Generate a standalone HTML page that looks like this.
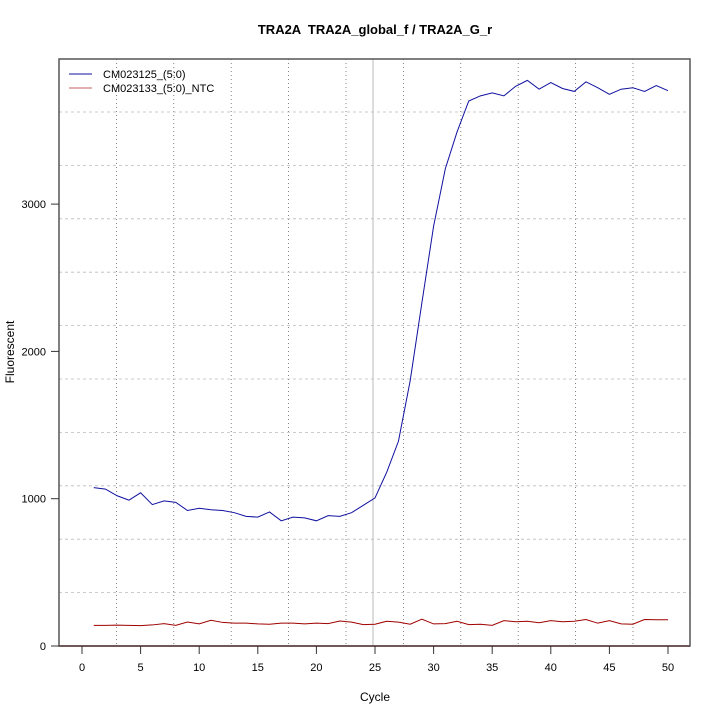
<!DOCTYPE html>
<html><head><meta charset="utf-8"><style>
body{margin:0;background:#fff;}
svg{display:block;font-family:"Liberation Sans",sans-serif;}
</style></head><body>
<svg id="s" width="720" height="720" xmlns="http://www.w3.org/2000/svg">
<rect width="720" height="720" fill="#fff"/>
<g id="grid"></g>
<line x1="373" y1="59" x2="373" y2="646" stroke="#bbb" stroke-width="1"/>
<line x1="59" y1="646" x2="690" y2="646" stroke="#c06060" stroke-width="2"/>
<polyline id="red" fill="none" stroke="#a00000" stroke-width="1"/>
<polyline id="blue" fill="none" stroke="#1010a0" stroke-width="1"/>
<rect x="59" y="59" width="631" height="587" fill="none" stroke="#555" stroke-width="1.5"/>
<g id="ticks" stroke="#333"></g>
<g id="labels" font-size="11" fill="#000"></g>
<text x="375" y="34" font-size="13" font-weight="bold" text-anchor="middle" style="white-space:pre">TRA2A  TRA2A_global_f / TRA2A_G_r</text>
<text x="375" y="701" font-size="12" text-anchor="middle">Cycle</text>
<text x="14" y="352" font-size="12" text-anchor="middle" transform="rotate(-90 14 352)">Fluorescent</text>
<line x1="69" y1="74" x2="92" y2="74" stroke="#1010a0"/>
<line x1="69" y1="88" x2="92" y2="88" stroke="#c06060"/>
<text x="103" y="78" font-size="11">CM023125_(5:0)</text>
<text x="103" y="92" font-size="11">CM023133_(5:0)_NTC</text>
</svg>
<script>
var ns="http://www.w3.org/2000/svg";
function el(p,t,a,txt){var e=document.createElementNS(ns,t);for(var k in a)e.setAttribute(k,a[k]);if(txt)e.textContent=txt;document.getElementById(p).appendChild(e);}
for(var i=1;i<11;i++){var x=59+57.4*i;el("grid","line",{x1:x,y1:59,x2:x,y2:646,stroke:"#666","stroke-width":0.8,"stroke-dasharray":"1,3"});}
for(var i=1;i<11;i++){var y=646-53.4*i;el("grid","line",{x1:59,y1:y,x2:690,y2:y,stroke:"#bbb","stroke-width":0.8,"stroke-dasharray":"3,3"});}
function X(c){return 82+c*11.72;}function Y(v){return 646-v*0.1473;}
var b=[1075,1065,1020,990,1040,960,985,975,920,935,925,920,905,880,875,910,850,875,870,850,885,880,905,955,1005,1180,1390,1800,2330,2850,3240,3490,3700,3735,3755,3735,3800,3840,3780,3825,3785,3765,3830,3790,3745,3780,3790,3765,3805,3770];
var r=[140,140,142,140,138,143,152,140,163,150,175,160,155,155,150,148,155,155,150,155,152,170,162,145,148,168,162,148,182,150,152,168,145,148,140,172,165,168,158,172,165,168,180,155,172,150,148,180,178,178];
document.getElementById("blue").setAttribute("points",b.map(function(v,i){return X(i+1)+","+Y(v)}).join(" "));
document.getElementById("red").setAttribute("points",r.map(function(v,i){return X(i+1)+","+Y(v)}).join(" "));
for(var c=0;c<=50;c+=5){el("ticks","line",{x1:X(c),y1:646,x2:X(c),y2:654});el("labels","text",{x:X(c),y:671,"text-anchor":"middle"},""+c);}
[0,1000,2000,3000].forEach(function(v){el("ticks","line",{x1:51,y1:Y(v),x2:59,y2:Y(v)});el("labels","text",{x:46,y:Y(v)+4,"text-anchor":"end"},""+v);});
</script>
</body></html>
